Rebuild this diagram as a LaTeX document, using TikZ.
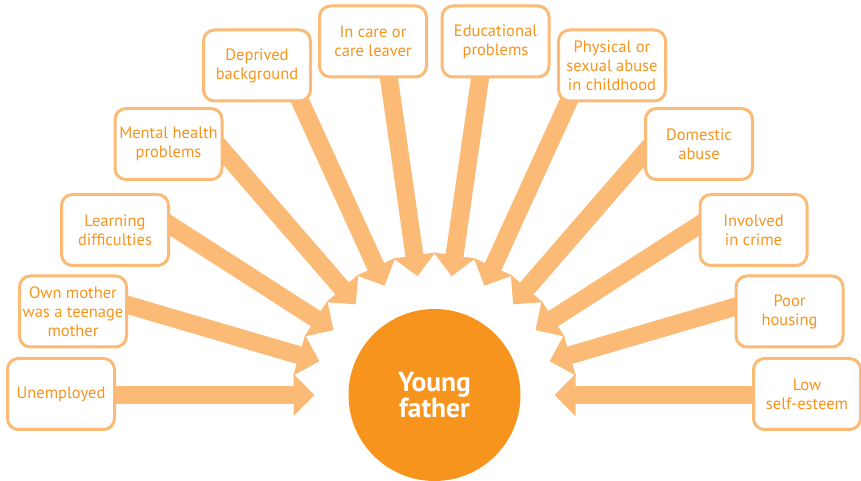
\documentclass[tikz,border=0pt]{standalone}
\usepackage{fontspec}
\setmainfont{PT Sans}
\usetikzlibrary{arrows.meta,calc,backgrounds}

\definecolor{dadorange}{HTML}{F7941D}
\definecolor{dadlight}{HTML}{FBBB77}

\tikzset{
  factor/.style={draw=dadlight, line width=3pt, rounded corners=11pt, fill=white,
    text=dadorange, minimum width=107pt, minimum height=71pt, align=center,
    inner sep=1pt, font=\fontsize{16.5}{19}\selectfont},
  spoke/.style={draw=dadlight, line width=18pt, -{Triangle[length=21pt,width=41pt]}}
}

\begin{document}
\begin{tikzpicture}[x=1pt,y=1pt]
    \useasboundingbox (0,0) rectangle (861,481);

    \node[circle, fill=dadorange, minimum size=172pt, inner sep=0pt, text=white,
      align=center, font=\bfseries\fontsize{27.5}{24}\selectfont] (yf) at (434.5,86) {Young\\father};

    % tips of the arrows, evenly round the top half
    \foreach \i in {0,...,11}
        \coordinate (t\i) at ($(yf.center)+({180-\i*180/11}:120)$);

    % left side
    \node[factor] (unemp)    at (61,87)      {Unemployed};
    \node[factor] (teen)     at (73,169.5)   {Own mother\\was a teenage\\mother};
    \node[factor] (learn)    at (115,251)    {Learning\\difficulties};
    \node[factor] (mental)   at (168.5,337)  {Mental health\\problems};
    \node[factor] (deprived) at (257,415.5)  {Deprived\\background};
    \node[factor] (care)     at (373,439.5)  {In care or\\care leaver};

    % right side
    \node[factor] (edu)      at (495.5,439.5) {Educational\\problems};
    \node[factor] (abuse)    at (612,415.5)   {Physical or\\sexual abuse\\in childhood};
    \node[factor] (domestic) at (699,337)     {Domestic\\abuse};
    \node[factor] (crime)    at (753.5,251)   {Involved\\in crime};
    \node[factor] (housing)  at (789.5,169.5) {Poor\\housing};
    \node[factor] (esteem)   at (807,87)      {Low\\self-esteem};

    \begin{scope}[on background layer]
    \foreach \b [count=\i from 0] in {unemp,teen,learn,mental,deprived,care,edu,abuse,domestic,crime,housing,esteem}
        \draw[spoke] ($(yf.center)!(\b.center)!(t\i)$) -- (t\i);
    \end{scope}
\end{tikzpicture}
\end{document}
